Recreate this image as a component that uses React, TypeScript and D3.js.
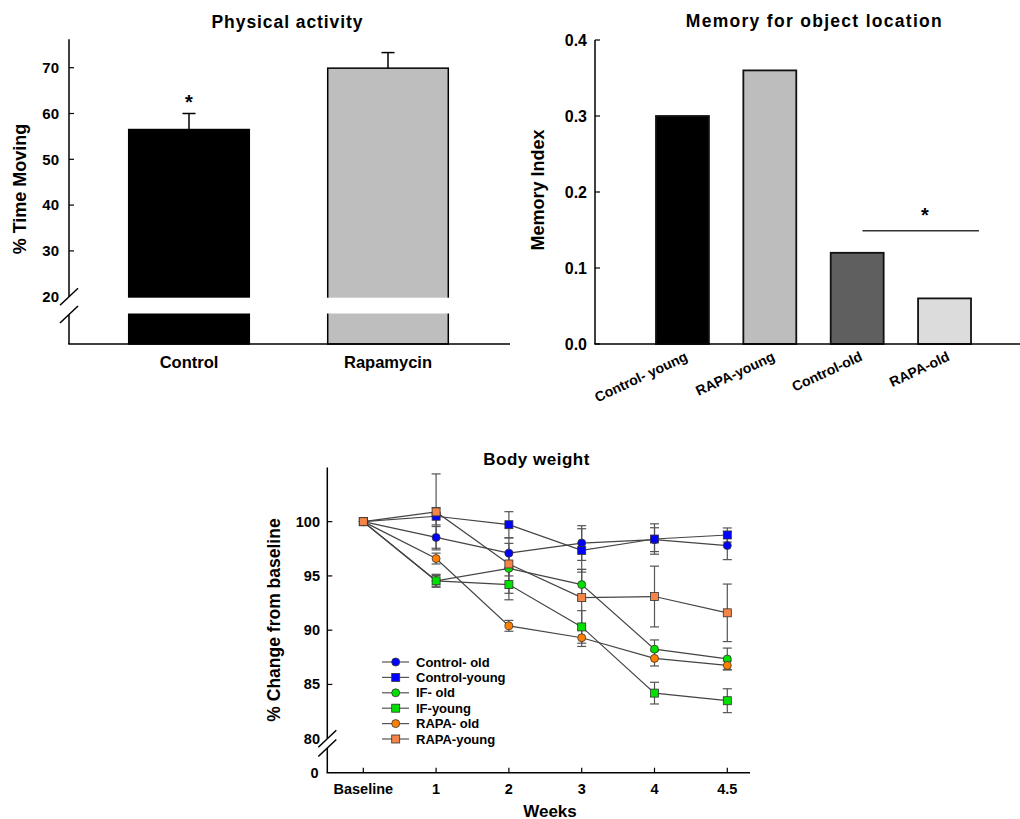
import React from "react";
import * as d3 from "d3";

// ---------- Data ----------
const activityCategories = ["Control", "Rapamycin"];
const activityMeans = [56.5, 69.9];
const activityErrors = [3.5, 3.4];
const activityTicks = [20, 30, 40, 50, 60, 70];

const memoryCategories = ["Control-young", "RAPA-young", "Control-old", "RAPA-old"];
const memoryLabels = ["Control- young", "RAPA-young", "Control-old", "RAPA-old"];
const memoryValues = [0.3, 0.36, 0.12, 0.06];
const memoryTicks = [0, 0.1, 0.2, 0.3, 0.4];
const memorySigLevel = 0.149;

const weekLabels = ["Baseline", "1", "2", "3", "4", "4.5"];
const weightTicks = [80, 85, 90, 95, 100];

const controlOld = [100, 98.55, 97.1, 98.03, 98.34, 97.8];
const controlOldErr = [0, 1.0, 1.4, 1.6, 1.1, 1.3];
const controlYoung = [100, 100.5, 99.72, 97.35, 98.4, 98.77];
const controlYoungErr = [0, 0.8, 1.2, 2.0, 1.4, 0.65];
const ifOld = [100, 94.55, 95.7, 94.2, 88.25, 87.35];
const ifOldErr = [0, 0.6, 2.3, 1.4, 0.85, 1.0];
const ifYoung = [100, 94.55, 94.2, 90.3, 84.2, 83.5];
const ifYoungErr = [0, 0.5, 1.4, 1.5, 1.0, 1.1];
const rapaOld = [100, 96.6, 90.4, 89.3, 87.4, 86.75];
const rapaOldErr = [0, 0.5, 0.5, 0.8, 0.7, 0.4];
const rapaYoung = [100, 100.9, 96.1, 93.0, 93.1, 91.6];
const rapaYoungErr = [0, 3.5, 1.1, 2.6, 2.8, 2.65];

const seriesNames = ["Control- old", "Control-young", "IF- old", "IF-young", "RAPA- old", "RAPA-young"];
const seriesValues = [controlOld, controlYoung, ifOld, ifYoung, rapaOld, rapaYoung];
const seriesErrors = [controlOldErr, controlYoungErr, ifOldErr, ifYoungErr, rapaOldErr, rapaYoungErr];
const seriesShapes = ["circle", "square", "circle", "square", "circle", "square"];
const seriesColors = ["#0000ff", "#0000ff", "#00e000", "#00e000", "#ff8000", "#f58446"];

const FONT = "'Liberation Sans', Arial, Helvetica, sans-serif";

function Marker({ shape, x, y, color }: { shape: string; x: number; y: number; color: string }) {
  if (shape === "circle")
    return <circle cx={x} cy={y} r={4} fill={color} stroke="#333" strokeWidth={0.8} />;
  return <rect x={x - 4} y={y - 4} width={8} height={8} fill={color} stroke="#333" strokeWidth={0.8} />;
}

export default function App() {
  // ---------- Panel A: Physical activity ----------
  const aY = d3.scaleLinear().domain([20, 76.2]).range([296.7, 39.3]);
  const aX = d3.scaleBand<string>().domain(activityCategories).range([69, 508]).paddingInner(0.394).paddingOuter(0.3);
  const aAxisX = 69;
  const aBase = 344;
  const aBreakBottom = 313.5;
  const aColors = ["#000000", "#bebebe"];

  // ---------- Panel B: Memory ----------
  const bY = d3.scaleLinear().domain([0, 0.4]).range([344, 40]);
  const bX = d3.scaleBand<string>().domain(memoryCategories).range([612.3, 1014.7]).paddingInner(0.394).paddingOuter(0.5);
  const bAxisX = 595;
  const bColors = ["#000000", "#bdbdbd", "#5f5f5f", "#dcdcdc"];

  // ---------- Panel C: Body weight ----------
  const cY = d3.scaleLinear().domain([80, 105]).range([738.7, 467.4]);
  const cX = d3.scalePoint<string>().domain(weekLabels).range([363.3, 727.3]).padding(0);
  const cAxisX = 327.3;
  const cBase = 772.7;
  const cBreakBottom = 748;
  const line = d3
    .line<number>()
    .x((_, i) => cX(weekLabels[i]) as number)
    .y((d) => cY(d));

  const slash = (cx: number, cy: number) => (
    <line x1={cx - 9} y1={cy + 8.5} x2={cx + 9} y2={cy - 8.5} stroke="#000" strokeWidth={1.5} />
  );

  return (
    <svg
      width={1020}
      height={819}
      style={{ position: "absolute", left: 0, top: 0, background: "#fff" }}
      fontFamily={FONT}
      fontWeight="bold"
    >
      {/* ================= Panel A ================= */}
      <text x={287} y={27.5} textAnchor="middle" fontSize={17.5} textLength={151} lengthAdjust="spacing">
        Physical activity
      </text>
      {activityCategories.map((c, i) => {
        const x0 = aX(c) as number;
        const w = aX.bandwidth();
        const top = aY(activityMeans[i]);
        const cx = x0 + w / 2;
        const errTop = aY(activityMeans[i] + activityErrors[i]);
        return (
          <g key={c}>
            <line x1={cx} x2={cx} y1={top} y2={errTop} stroke="#000" strokeWidth={1.5} />
            <line x1={cx - 6.5} x2={cx + 6.5} y1={errTop} y2={errTop} stroke="#000" strokeWidth={1.5} />
            <rect x={x0} y={top} width={w} height={aBase - top} fill={aColors[i]} stroke="#000" strokeWidth={1.5} />
            <rect x={x0 - 2} y={aY(20) + 1} width={w + 4} height={aBreakBottom - aY(20) - 1} fill="#fff" />
            <text x={cx} y={368} textAnchor="middle" fontSize={16.5}>
              {c}
            </text>
          </g>
        );
      })}
      <text x={(aX("Control") as number) + aX.bandwidth() / 2} y={109} textAnchor="middle" fontSize={20}>
        *
      </text>
      {/* axes */}
      <line x1={aAxisX} x2={aAxisX} y1={aY(76.2)} y2={aY(20)} stroke="#000" strokeWidth={1.5} />
      <line x1={aAxisX} x2={aAxisX} y1={aBreakBottom + 1} y2={aBase} stroke="#000" strokeWidth={1.5} />
      {slash(aAxisX, aY(20))}
      {slash(aAxisX, aBreakBottom + 1)}
      <line x1={aAxisX - 0.75} x2={510} y1={aBase} y2={aBase} stroke="#000" strokeWidth={1.5} />
      {activityTicks.map((t) => (
        <g key={t}>
          {t !== 20 && <line x1={aAxisX} x2={aAxisX + 5} y1={aY(t)} y2={aY(t)} stroke="#000" strokeWidth={1.2} />}
          <text x={59} y={aY(t) + 5.3} textAnchor="end" fontSize={15}>
            {t}
          </text>
        </g>
      ))}
      <text transform={`translate(25.5,189) rotate(-90)`} textAnchor="middle" fontSize={18}>
        % Time Moving
      </text>

      {/* ================= Panel B ================= */}
      <text x={813.8} y={27} textAnchor="middle" fontSize={17.5} textLength={256} lengthAdjust="spacing">
        Memory for object location
      </text>
      {memoryCategories.map((c, i) => {
        const x0 = bX(c) as number;
        const w = bX.bandwidth();
        const top = bY(memoryValues[i]);
        const cx = x0 + w / 2;
        return (
          <g key={c}>
            <rect x={x0} y={top} width={w} height={bY(0) - top} fill={bColors[i]} stroke="#111" strokeWidth={1.8} />
            <text transform={`translate(${cx + 6},${360}) rotate(-25)`} textAnchor="end" fontSize={14}>
              {memoryLabels[i]}
            </text>
          </g>
        );
      })}
      <line
        x1={(bX("Control-old") as number) + bX.bandwidth() * 0.6}
        x2={(bX("RAPA-old") as number) + bX.bandwidth() * 1.15}
        y1={bY(memorySigLevel)}
        y2={bY(memorySigLevel)}
        stroke="#333"
        strokeWidth={1.5}
      />
      <text x={925} y={221.5} textAnchor="middle" fontSize={20}>
        *
      </text>
      <line x1={bAxisX} x2={bAxisX} y1={bY(0.4)} y2={bY(0)} stroke="#000" strokeWidth={1.5} />
      <line x1={bAxisX - 0.75} x2={1020} y1={bY(0)} y2={bY(0)} stroke="#000" strokeWidth={1.5} />
      {memoryTicks.map((t) => (
        <g key={t}>
          <line x1={bAxisX} x2={bAxisX + 5} y1={bY(t)} y2={bY(t)} stroke="#000" strokeWidth={1.2} />
          <text x={587} y={bY(t) + 5.5} textAnchor="end" fontSize={16}>
            {d3.format(".1f")(t)}
          </text>
        </g>
      ))}
      <text transform={`translate(544,190) rotate(-90)`} textAnchor="middle" fontSize={18}>
        Memory Index
      </text>

      {/* ================= Panel C ================= */}
      <text x={536.3} y={465} textAnchor="middle" fontSize={17} textLength={106} lengthAdjust="spacing">
        Body weight
      </text>
      {/* error bars */}
      {seriesValues.map((vals, si) => (
        <g key={"err" + si}>
          {vals.map((v, i) => {
            const e = seriesErrors[si][i];
            if (!e) return null;
            const x = cX(weekLabels[i]) as number;
            const y1 = cY(v - e);
            const y2 = cY(v + e);
            return (
              <g key={i} stroke="#555" strokeWidth={1.2}>
                <line x1={x} x2={x} y1={y1} y2={y2} />
                <line x1={x - 4.5} x2={x + 4.5} y1={y1} y2={y1} />
                <line x1={x - 4.5} x2={x + 4.5} y1={y2} y2={y2} />
              </g>
            );
          })}
        </g>
      ))}
      {/* lines */}
      {seriesValues.map((vals, si) => (
        <path key={"ln" + si} d={line(vals) as string} fill="none" stroke="#444" strokeWidth={1.2} />
      ))}
      {/* markers */}
      {seriesValues.map((vals, si) => (
        <g key={"mk" + si}>
          {vals.map((v, i) => (
            <Marker key={i} shape={seriesShapes[si]} x={cX(weekLabels[i]) as number} y={cY(v)} color={seriesColors[si]} />
          ))}
        </g>
      ))}
      {/* axes */}
      <line x1={cAxisX} x2={cAxisX} y1={cY(105)} y2={cY(80)} stroke="#000" strokeWidth={1.5} />
      <line x1={cAxisX} x2={cAxisX} y1={cBreakBottom} y2={cBase} stroke="#000" strokeWidth={1.5} />
      {slash(cAxisX, cY(80))}
      {slash(cAxisX, cBreakBottom)}
      <line x1={cAxisX - 0.75} x2={750} y1={cBase} y2={cBase} stroke="#000" strokeWidth={1.5} />
      {weightTicks.map((t) => (
        <g key={t}>
          {t !== 80 && <line x1={cAxisX} x2={cAxisX + 5} y1={cY(t)} y2={cY(t)} stroke="#000" strokeWidth={1.2} />}
          <text x={320} y={cY(t) + 5} textAnchor="end" fontSize={14.5}>
            {t}
          </text>
        </g>
      ))}
      <text x={318.5} y={cBase + 5} textAnchor="end" fontSize={14.5}>
        0
      </text>
      {weekLabels.map((w) => (
        <g key={w}>
          <line x1={cX(w) as number} x2={cX(w) as number} y1={cBase} y2={cBase - 5} stroke="#000" strokeWidth={1.2} />
          <text x={cX(w) as number} y={793.5} textAnchor="middle" fontSize={14.5}>
            {w}
          </text>
        </g>
      ))}
      <text x={550} y={816.5} textAnchor="middle" fontSize={17}>
        Weeks
      </text>
      <text transform={`translate(280,620) rotate(-90)`} textAnchor="middle" fontSize={17.5}>
        % Change from baseline
      </text>
      {/* legend */}
      {seriesNames.map((n, i) => {
        const y = 662 + i * 15.4;
        return (
          <g key={n}>
            <line x1={382} x2={409} y1={y} y2={y} stroke="#555" strokeWidth={1.2} />
            <Marker shape={seriesShapes[i]} x={395.7} y={y} color={seriesColors[i]} />
            <text x={416} y={y + 4.6} fontSize={13} style={{ whiteSpace: "pre" }}>
              {n}
            </text>
          </g>
        );
      })}
    </svg>
  );
}
